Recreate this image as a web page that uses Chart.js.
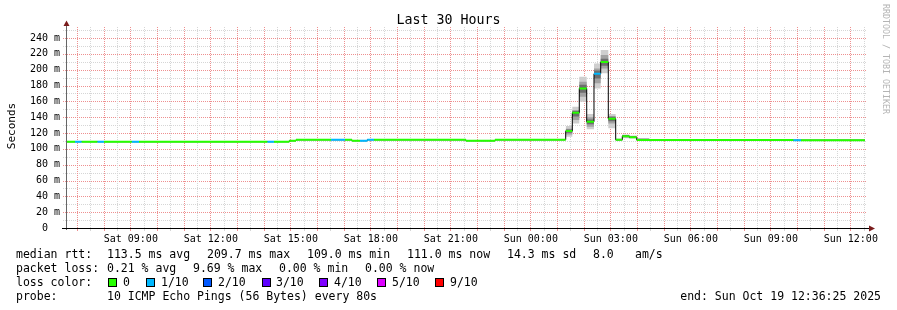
<!DOCTYPE html>
<html><head><meta charset="utf-8">
<script src="https://cdn.jsdelivr.net/npm/chart.js@4"></script>
<style>
html,body{margin:0;padding:0;background:#fff;}
#wrap{position:relative;width:897px;height:310px;overflow:hidden;font-family:"DejaVu Sans Mono",monospace;color:#000;}
canvas{position:absolute;left:0;top:0;}
.t{position:absolute;white-space:pre;font-size:11.5px;line-height:14px;}
.sw{position:absolute;width:7px;height:7px;border:1px solid #000;}
#title{position:absolute;left:0;top:12px;width:897px;text-align:center;font-size:13.3px;line-height:16px;white-space:pre;}
#wm{position:absolute;left:881px;top:4px;writing-mode:vertical-rl;font-size:8.3px;color:#b4b4b4;white-space:pre;}
</style></head><body>
<div id="wrap">
<canvas id="c" width="897" height="310"></canvas>
<div id="title">Last 30 Hours</div>
<div id="wm">RRDTOOL / TOBI OETIKER</div>

<div class="t" style="left:16px;top:247px">median rtt:</div>
<div class="t" style="left:107px;top:247px">113.5 ms avg</div>
<div class="t" style="left:207px;top:247px">209.7 ms max</div>
<div class="t" style="left:307px;top:247px">109.0 ms min</div>
<div class="t" style="left:407px;top:247px">111.0 ms now</div>
<div class="t" style="left:507px;top:247px">14.3 ms sd</div>
<div class="t" style="left:593px;top:247px">8.0</div>
<div class="t" style="left:635px;top:247px">am/s</div>

<div class="t" style="left:16px;top:261px">packet loss:</div>
<div class="t" style="left:107px;top:261px">0.21 % avg</div>
<div class="t" style="left:193px;top:261px">9.69 % max</div>
<div class="t" style="left:279px;top:261px">0.00 % min</div>
<div class="t" style="left:365px;top:261px">0.00 % now</div>

<div class="t" style="left:16px;top:275px">loss color:</div>
<div id="lossLegend"></div>

<div class="t" style="left:16px;top:289px">probe:</div>
<div class="t" style="left:107px;top:289px">10 ICMP Echo Pings (56 Bytes) every 80s</div>
<div class="t" style="right:16px;top:289px">end: Sun Oct 19 12:36:25 2025</div>
</div>
<script>
// ---- time axis (hours since Sat 00:00) ----
const startHour = 6.607;   // Sat 06:36:25
const endHour = 36.607;    // Sun 12:36:25
const labelHours = [9, 12, 15, 18, 21, 24, 27, 30, 33, 36];
const timeLabels = ["Sat 09:00","Sat 12:00","Sat 15:00","Sat 18:00","Sat 21:00","Sun 00:00","Sun 03:00","Sun 06:00","Sun 09:00","Sun 12:00"];
const gridHours = [7,7.5,8,8.5,9,9.5,10,10.5,11,11.5,12,12.5,13,13.5,14,14.5,15,15.5,16,16.5,17,17.5,18,18.5,19,19.5,20,20.5,21,21.5,22,22.5,23,23.5,24,24.5,25,25.5,26,26.5,27,27.5,28,28.5,29,29.5,30,30.5,31,31.5,32,32.5,33,33.5,34,34.5,35,35.5,36,36.5];
const gridMs = [0,10,20,30,40,50,60,70,80,90,100,110,120,130,140,150,160,170,180,190,200,210,220,230,240,250];
const msLabels = {0:"0  ",20:"20 m",40:"40 m",60:"60 m",80:"80 m",100:"100 m",120:"120 m",140:"140 m",160:"160 m",180:"180 m",200:"200 m",220:"220 m",240:"240 m"};
const yAxisTitle = "Seconds";

// ---- median RTT steps ----
const stepHour = [6.607,6.907,7.158,7.743,7.994,9.033,9.307,14.118,14.369,14.943,15.194,16.507,17.032,17.294,17.594,17.868,18.119,21.569,22.657,25.308,25.556,25.818,26.096,26.369,26.621,26.906,27.183,27.431,27.693,27.971,33.843,34.132];
const lastDataHour = 36.532;
const medianMs = [109.0,109.0,109.0,109.0,109.0,109.0,109.0,109.0,109.0,110.3,111.5,111.5,111.5,110.3,110.3,111.5,111.5,110.3,111.5,122.5,145.6,176.4,134.3,195.0,209.7,138.0,111.5,116.0,114.6,111.3,111.0,111.0];
const lossTenths = [0,1,0,1,0,1,0,1,0,0,0,1,0,0,1,1,0,0,0,0,0,0,0,1,0,0,0,0,0,0,1,0];

// ---- smoke (ping spread) during the spike ----
const smokeHour = [25.308,25.556,25.818,26.096,26.369,26.621,26.906,27.183,27.431,27.693,27.971,28.45];
const smokeMin   = [115.3,132.2,159.5,124.7,176.4,195.4,126.0,110.5,113.3,113.0,110.6];
const smokeMax   = [128.8,153.2,191.1,144.0,208.0,224.8,144.0,113.0,118.3,117.0,113.8];
const smokeLowQ  = [118.3,136.4,165.9,128.0,182.8,201.7,132.2,111.0,114.5,113.6,111.0];
const smokeHighQ = [125.3,149.0,184.8,139.8,201.7,218.5,140.6,112.5,117.5,116.0,113.0];
const smokeCoreLo= [120.5,141.0,171.0,131.0,189.0,205.0,135.0,111.2,115.2,114.0,111.2];
const smokeCoreHi= [124.5,148.0,181.0,137.0,199.0,214.0,141.0,112.0,116.8,115.4,112.2];

// ---- loss colours ----
const lossNames = ["0","1/10","2/10","3/10","4/10","5/10","9/10"];
const lossColors = ["#26ff00","#00b8ff","#0059ff","#5e00ff","#7e00ff","#dd00ff","#ff0000"];

// legend swatches
(function(){
  const boxX = [108,146,203,262,319,377,435];
  const txtX = [123,161,218,276,334,392,450];
  const host = document.getElementById('lossLegend');
  lossNames.forEach((n,i)=>{
    const b=document.createElement('div'); b.className='sw';
    b.style.left=boxX[i]+'px'; b.style.top='278px'; b.style.background=lossColors[i];
    host.appendChild(b);
    const t=document.createElement('div'); t.className='t';
    t.style.left=txtX[i]+'px'; t.style.top='275px'; t.textContent=n;
    host.appendChild(t);
  });
})();

function stepPoints(hours, vals){
  return hours.map((h,i)=>({x:h, y:vals[Math.min(i, vals.length-1)]}));
}
const stepEnds = stepHour.slice(1).concat([lastDataHour]);
function lossSegments(level){
  const out=[];
  stepHour.forEach((h,i)=>{
    if(lossTenths[i]===level){
      out.push({x:h,y:medianMs[i]},{x:stepEnds[i],y:medianMs[i]},{x:stepEnds[i],y:null});
    }
  });
  return out;
}

const RED = '#ee9090';
const GRAY = '#d6d6d6';
const mono = "'DejaVu Sans Mono', monospace";

// dotted RRDtool-style grid, positioned through the chart's own scales
const dottedGrid = {
  id:'dottedGrid',
  beforeDatasetsDraw(chart){
    const c = chart.ctx, a = chart.chartArea, xs = chart.scales.x, ys = chart.scales.y;
    const top = Math.round(a.top), bot = Math.round(a.bottom), L = Math.round(a.left), R = Math.round(a.right);
    c.save();
    gridMs.forEach(v=>{
      if (v === 0) return;
      const y = Math.round(ys.getPixelForValue(v));
      c.fillStyle = (v % 20 === 0) ? RED : GRAY;
      for (let x = L - 4; x < R; x += 2) c.fillRect(x, y, 1, 1);
    });
    gridHours.forEach(h=>{
      const x = Math.floor(xs.getPixelForValue(h));
      c.fillStyle = (h % 1 === 0) ? RED : GRAY;
      for (let y = top; y < bot; y += 2) c.fillRect(x, y, 1, 1);
      c.fillRect(x, bot + 1, 1, 2);
    });
    c.restore();
  }
};

const axisDeco = {
  id:'axisDeco',
  afterDraw(chart){
    const c = chart.ctx, a = chart.chartArea;
    c.save();
    c.fillStyle = '#666';
    c.fillRect(Math.round(a.left)-1, 25, 1, Math.round(a.bottom)+2-25);
    c.fillStyle = '#000';
    c.fillRect(62, Math.round(a.bottom), Math.round(a.right)+2-62, 1);
    c.fillStyle = '#7a1c1c';
    c.beginPath(); c.moveTo(Math.round(a.left)-0.5, 20.5); c.lineTo(Math.round(a.left)-3.5, 26); c.lineTo(Math.round(a.left)+2.5, 26); c.closePath(); c.fill();
    const yb = Math.round(a.bottom)+0.5;
    c.beginPath(); c.moveTo(875, yb); c.lineTo(869, yb-3); c.lineTo(869, yb+3); c.closePath(); c.fill();
    // y axis title
    c.translate(15, 126);
    c.rotate(-Math.PI/2);
    c.fillStyle = '#000';
    c.font = "11px 'DejaVu Sans Mono', monospace";
    c.textAlign = 'center';
    c.textBaseline = 'alphabetic';
    c.fillText(yAxisTitle, 0, 0);
    c.restore();
  }
};

const STEP = 'before'; // Chart.js 'before': hold previous value, then jump
const base = {type:'line', pointRadius:0, pointHoverRadius:0, spanGaps:false, tension:0};
new Chart(document.getElementById('c'), {
  type:'line',
  data:{datasets:[
    Object.assign({}, base, {label:'loss 0', data:lossSegments(0), borderColor:lossColors[0], borderWidth:2, order:0}),
    Object.assign({}, base, {label:'loss 1/10', data:lossSegments(1), borderColor:lossColors[1], borderWidth:2, order:0}),
    Object.assign({}, base, {label:'median', data:stepPoints(stepHour.concat([lastDataHour]), medianMs), stepped:STEP, borderColor:'#000', borderWidth:1, order:1}),
    Object.assign({}, base, {label:'coreHi', data:stepPoints(smokeHour, smokeCoreHi), stepped:STEP, borderWidth:0, borderColor:'rgba(0,0,0,0)', fill:false, order:2}),
    Object.assign({}, base, {label:'coreLo', data:stepPoints(smokeHour, smokeCoreLo), stepped:STEP, borderWidth:0, borderColor:'rgba(0,0,0,0)', fill:'-1', backgroundColor:'#6e6e6e', order:2}),
    Object.assign({}, base, {label:'qHi', data:stepPoints(smokeHour, smokeHighQ), stepped:STEP, borderWidth:0, borderColor:'rgba(0,0,0,0)', fill:false, order:3}),
    Object.assign({}, base, {label:'qLo', data:stepPoints(smokeHour, smokeLowQ), stepped:STEP, borderWidth:0, borderColor:'rgba(0,0,0,0)', fill:'-1', backgroundColor:'#a2a2a2', order:3}),
    Object.assign({}, base, {label:'max', data:stepPoints(smokeHour, smokeMax), stepped:STEP, borderWidth:0, borderColor:'rgba(0,0,0,0)', fill:false, order:4}),
    Object.assign({}, base, {label:'min', data:stepPoints(smokeHour, smokeMin), stepped:STEP, borderWidth:0, borderColor:'rgba(0,0,0,0)', fill:'-1', backgroundColor:'#cecece', order:4})
  ]},
  options:{
    responsive:false, animation:false, devicePixelRatio:1,
    layout:{padding:{left:0,right:30,top:27,bottom:0}},
    plugins:{legend:{display:false}, tooltip:{enabled:false}, title:{display:false}},
    events:[],
    scales:{
      x:{type:'linear', min:startHour, max:endHour,
        afterBuildTicks:s=>{s.ticks = gridHours.map(v=>({value:v}));},
        afterFit:s=>{s.height = 82;},
        grid:{display:false, tickLength:3},
        border:{display:false},
        ticks:{autoSkip:false, maxRotation:0, minRotation:0, padding:2, color:'#000', font:{family:mono, size:10},
          callback:(v)=>{const k=labelHours.indexOf(v); return k>=0 ? timeLabels[k] : '';}}
      },
      y:{type:'linear', min:0, max:254,
        afterBuildTicks:s=>{s.ticks = gridMs.map(v=>({value:v}));},
        afterFit:s=>{s.width = 67;},
        grid:{display:false, tickLength:4},
        border:{display:false},
        ticks:{padding:3, color:'#000', font:{family:mono, size:10},
          callback:(v)=> (v in msLabels) ? msLabels[v] : ''}
      }
    }
  },
  plugins:[dottedGrid, axisDeco]
});
</script>
</body></html>
